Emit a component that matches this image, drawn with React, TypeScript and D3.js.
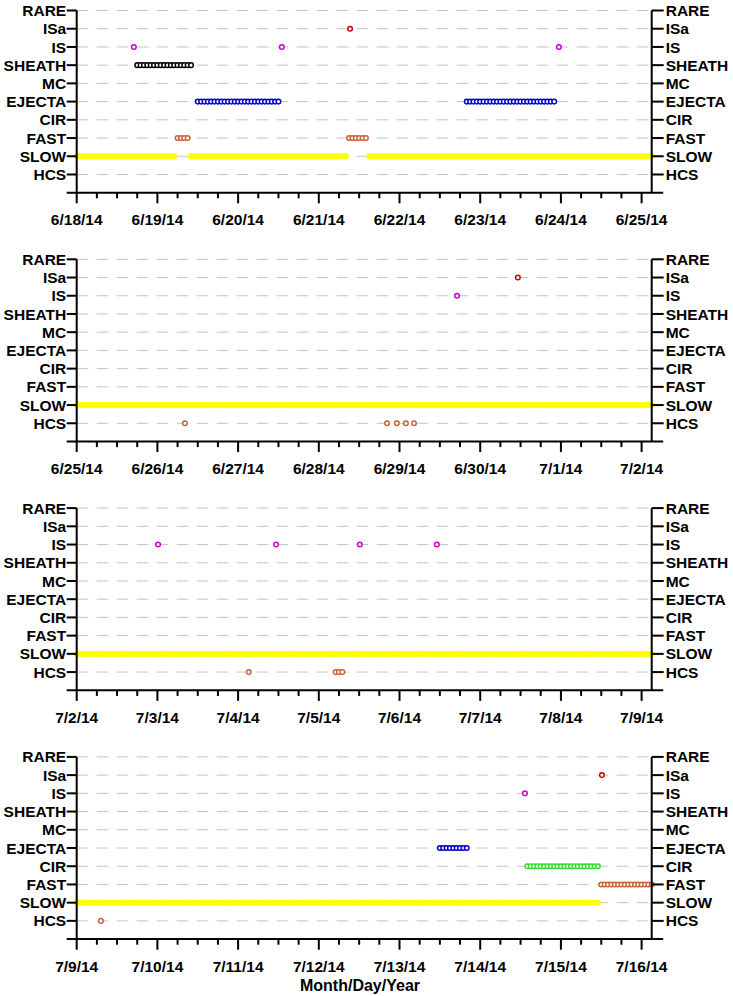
import React from "react";
import * as d3 from "d3";

// ---- data ----
const panelStarts = ["2014-06-18", "2014-06-25", "2014-07-02", "2014-07-09"];
const categories = ["HCS", "SLOW", "FAST", "CIR", "EJECTA", "MC", "SHEATH", "IS", "ISa", "RARE"];
const categoryColors: Record<string, string> = {
  HCS: "#c8643c",
  SLOW: "#ffff00",
  FAST: "#c8643c",
  CIR: "#33dd33",
  EJECTA: "#0000cc",
  MC: "#008080",
  SHEATH: "#000000",
  IS: "#cc00cc",
  ISa: "#cc0000",
  RARE: "#888888",
};
// hourly runs: [category, firstHour, lastHour] (hours since panel start)
const runs1: [string, number, number][] = [
  ["SLOW", 0, 29], ["FAST", 30, 33], ["SLOW", 34, 80], ["FAST", 81, 86], ["SLOW", 87, 171],
  ["SHEATH", 18, 34], ["EJECTA", 36, 60], ["EJECTA", 116, 142],
];
const runs2: [string, number, number][] = [["SLOW", 0, 171]];
const runs3: [string, number, number][] = [["SLOW", 0, 171], ["HCS", 77, 79]];
const runs4: [string, number, number][] = [
  ["SLOW", 0, 155], ["CIR", 134, 155], ["FAST", 156, 171], ["EJECTA", 108, 116],
];
// single events: [category, hour]
const points1: [string, number][] = [["IS", 17], ["IS", 61], ["IS", 143.4], ["ISa", 81.3]];
const points2: [string, number][] = [
  ["ISa", 131.2], ["IS", 113.1], ["HCS", 32.2], ["HCS", 92.3], ["HCS", 95.2], ["HCS", 97.9], ["HCS", 100.3],
];
const points3: [string, number][] = [
  ["IS", 24.2], ["IS", 59.3], ["IS", 84.2], ["IS", 107.1], ["HCS", 51.2],
];
const points4: [string, number][] = [["IS", 133.3], ["ISa", 156.2], ["HCS", 7.2]];
const panelRuns = [runs1, runs2, runs3, runs4];
const panelPoints = [points1, points2, points3, points4];
const xTitle = "Month/Day/Year";

// ---- layout ----
const W = 733, H = 996;
const left = 76.7, right = 651.7;
const panelTop0 = 10.5, panelBottom0 = 192.7, panelStep = 248.8;
const spanHours = 7 * 24 + 3;
const font = "'Liberation Sans', Arial, sans-serif";
const fs = 15.5;

const fmt = (d: Date) => `${d.getUTCMonth() + 1}/${d.getUTCDate()}/${String(d.getUTCFullYear()).slice(2)}`;

function Panel({ idx }: { idx: number }) {
  const start = new Date(panelStarts[idx] + "T00:00:00Z");
  const end = d3.utcHour.offset(start, spanHours);
  const x = d3.scaleUtc().domain([start, end]).range([left, right]);
  const bottom = panelBottom0 + idx * panelStep;
  const top = panelTop0 + idx * panelStep;
  const y = d3.scaleLinear().domain([0, categories.length]).range([bottom, top]);
  const lastTick = d3.utcDay.offset(start, 7);
  const ticks = d3.utcHour.every(6)!.range(start, d3.utcHour.offset(lastTick, 1));
  const hx = (h: number) => x(d3.utcMinute.offset(start, Math.round(h * 60)));

  const marks: { c: string; h: number }[] = [];
  panelRuns[idx].forEach(([c, a, b]) => {
    for (const h of d3.range(a, b + 1)) marks.push({ c, h });
  });
  panelPoints[idx].forEach(([c, h]) => marks.push({ c, h }));
  const yellow = marks.filter((m) => m.c === "SLOW");
  const others = marks.filter((m) => m.c !== "SLOW");

  return (
    <g>
      {categories.map((c, i) => (
        <line key={"g" + c} x1={left} x2={right} y1={y(i + 1)} y2={y(i + 1)}
          stroke="#c4c4c4" strokeWidth={1} strokeDasharray="11.6 8.4" />
      ))}
      {yellow.map((m, i) => (
        <circle key={"y" + i} cx={hx(m.h)} cy={y(categories.indexOf(m.c) + 1)} r={2.7}
          fill="#ffff00" stroke="#ffff00" strokeWidth={1} />
      ))}
      {others.map((m, i) => (
        <circle key={"o" + i} cx={hx(m.h)} cy={y(categories.indexOf(m.c) + 1)} r={2.3}
          fill="#ffffff" stroke={categoryColors[m.c]} strokeWidth={1.5} />
      ))}
      {/* axes */}
      <line x1={left} x2={left} y1={top} y2={bottom} stroke="#000" strokeWidth={2} />
      <line x1={right} x2={right} y1={top} y2={bottom} stroke="#000" strokeWidth={2} />
      <line x1={left - 10} x2={right + 11.5} y1={bottom} y2={bottom} stroke="#000" strokeWidth={2} />
      {categories.map((c, i) => (
        <g key={"t" + c}>
          <line x1={left - 10} x2={left} y1={y(i + 1)} y2={y(i + 1)} stroke="#000" strokeWidth={2} />
          <line x1={right} x2={right + 12} y1={y(i + 1)} y2={y(i + 1)} stroke="#000" strokeWidth={2} />
          <text x={left - 10.5} y={y(i + 1)} dy="0.36em" textAnchor="end" fontFamily={font}
            fontWeight="bold" fontSize={fs}>{c}</text>
          <text x={right + 14} y={y(i + 1)} dy="0.36em" textAnchor="start" fontFamily={font}
            fontWeight="bold" fontSize={fs}>{c}</text>
        </g>
      ))}
      {ticks.map((t, i) => {
        const major = t.getUTCHours() === 0;
        return (
          <g key={"x" + i}>
            <line x1={x(t)} x2={x(t)} y1={bottom} y2={bottom + (major ? 10.6 : 5.6)} stroke="#000" strokeWidth={2} />
            {major && (
              <text x={x(t)} y={bottom + 32.6} textAnchor="middle" fontFamily={font} fontWeight="bold"
                fontSize={fs}>{fmt(t)}</text>
            )}
          </g>
        );
      })}
    </g>
  );
}

export default function App() {
  return (
    <svg width={W} height={H} style={{ position: "absolute", left: 0, top: 0, background: "#fff" }}>
      <rect width={W} height={H} fill="#fff" />
      {panelStarts.map((_, i) => <Panel key={i} idx={i} />)}
      <text x={360} y={991} textAnchor="middle" fontFamily={font} fontWeight="bold" fontSize={16}>{xTitle}</text>
    </svg>
  );
}
